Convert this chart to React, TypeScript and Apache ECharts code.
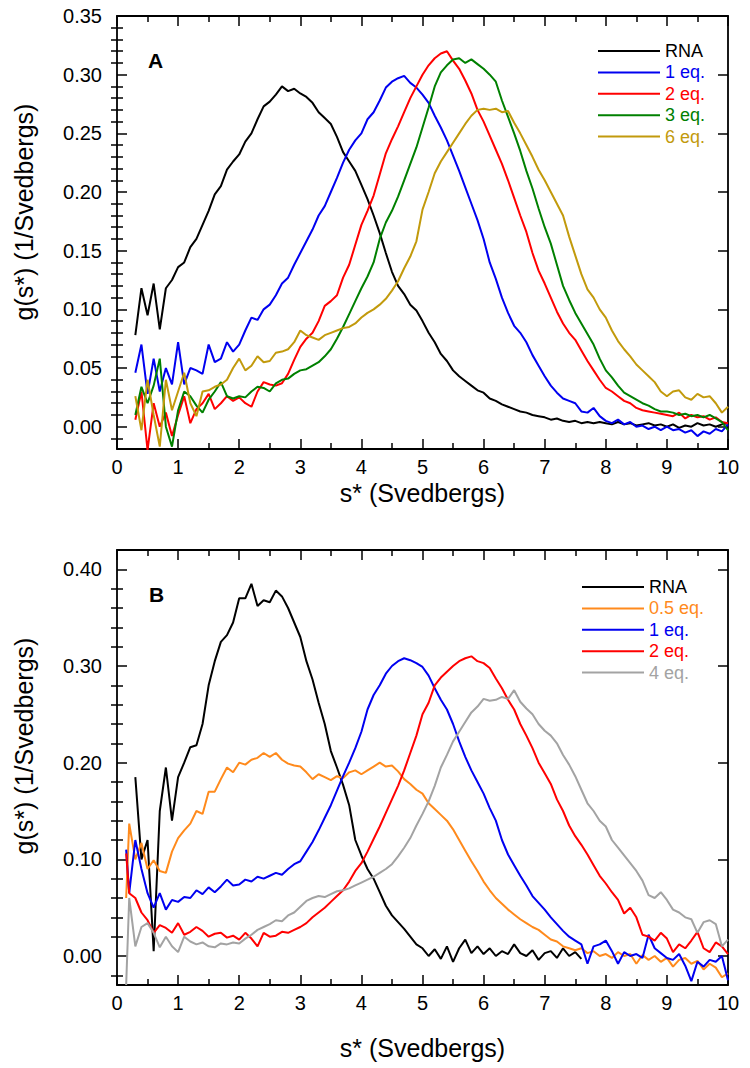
import { useEffect, useRef } from "react";
import * as echarts from "echarts";

const FONT = "'Liberation Sans', Arial, sans-serif";

// ---------- Panel A ----------
const sA = [
  0.3, 0.4, 0.5, 0.6, 0.7, 0.8, 0.9,
  1.0, 1.1, 1.2, 1.3, 1.4, 1.5, 1.6, 1.7, 1.8, 1.9,
  2.0, 2.1, 2.2, 2.3, 2.4, 2.5, 2.6, 2.7, 2.8, 2.9,
  3.0, 3.1, 3.2, 3.3, 3.4, 3.5, 3.6, 3.7, 3.8, 3.9,
  4.0, 4.1, 4.2, 4.3, 4.4, 4.5, 4.6, 4.7, 4.8, 4.9,
  5.0, 5.1, 5.2, 5.3, 5.4, 5.5, 5.6, 5.7, 5.8, 5.9,
  6.0, 6.1, 6.2, 6.3, 6.4, 6.5, 6.6, 6.7, 6.8, 6.9,
  7.0, 7.1, 7.2, 7.3, 7.4, 7.5, 7.6, 7.7, 7.8, 7.9,
  8.0, 8.1, 8.2, 8.3, 8.4, 8.5, 8.6, 8.7, 8.8, 8.9,
  9.0, 9.1, 9.2, 9.3, 9.4, 9.5, 9.6, 9.7, 9.8, 9.9,
  10.0,
];

const rnaA = [
  0.078, 0.118, 0.095, 0.122, 0.083, 0.118, 0.125,
  0.136, 0.14, 0.153, 0.16, 0.172, 0.184, 0.198, 0.205, 0.219, 0.226,
  0.232, 0.243, 0.25, 0.262, 0.273, 0.277, 0.283, 0.29, 0.286, 0.288,
  0.284, 0.281, 0.276, 0.268, 0.263, 0.258, 0.247, 0.234, 0.226, 0.218,
  0.206, 0.194, 0.18, 0.165, 0.148, 0.132, 0.12, 0.113, 0.104, 0.099,
  0.09, 0.08, 0.072, 0.062, 0.056, 0.048, 0.043, 0.039, 0.035, 0.031,
  0.029, 0.024, 0.022, 0.019, 0.017, 0.015, 0.013, 0.012, 0.01, 0.009,
  0.008, 0.006, 0.007, 0.005, 0.004, 0.005, 0.003, 0.004, 0.003, 0.004,
  0.003, 0.002, 0.004, 0.002, 0.003, 0.001, 0.002, 0.003, 0.001, 0.002,
  0.0, 0.002, -0.001, 0.001, 0.0, 0.003, 0.001, 0.002, 0.0, 0.002,
  0.003,
];

const eq1A = [
  0.046, 0.07, 0.028, 0.058, 0.03, 0.05, 0.036,
  0.072, 0.036, 0.05, 0.048, 0.045, 0.07, 0.055, 0.058, 0.072, 0.064,
  0.07, 0.082, 0.093, 0.091, 0.1, 0.104, 0.112, 0.122, 0.127, 0.138,
  0.148, 0.158, 0.168, 0.18, 0.188, 0.2, 0.212, 0.225, 0.236, 0.244,
  0.25, 0.262, 0.268, 0.278, 0.289, 0.294, 0.297, 0.299, 0.293, 0.289,
  0.283, 0.276, 0.265, 0.255, 0.244, 0.231, 0.218, 0.204, 0.19, 0.176,
  0.16, 0.14, 0.126, 0.11, 0.097, 0.086, 0.08, 0.072, 0.061, 0.052,
  0.043, 0.035, 0.029, 0.024, 0.022, 0.02, 0.013, 0.012, 0.016, 0.009,
  0.005, 0.003, 0.006, 0.002, 0.004, 0.0, 0.001, -0.002, 0.0, -0.003,
  0.0, -0.003, -0.002, -0.005, -0.003, -0.008, -0.004, -0.006, -0.002, -0.004,
  0.002,
];

const eq2A = [
  0.006, 0.03, -0.02, 0.02, 0.0, 0.012, -0.008,
  0.01, 0.026, 0.003, 0.015, 0.02, 0.028, 0.015, 0.02, 0.026, 0.022,
  0.025, 0.02, 0.017, 0.03, 0.038, 0.036, 0.035, 0.037, 0.045, 0.057,
  0.068, 0.075, 0.08, 0.09, 0.103, 0.107, 0.112, 0.127, 0.138, 0.155,
  0.172, 0.184, 0.197, 0.215, 0.233, 0.245, 0.256, 0.268, 0.28, 0.29,
  0.3, 0.308, 0.314, 0.318, 0.32, 0.312, 0.305, 0.295, 0.284, 0.27,
  0.26, 0.248, 0.236, 0.224, 0.21, 0.195, 0.18, 0.166, 0.148, 0.133,
  0.122, 0.11, 0.098, 0.088, 0.08, 0.074, 0.065, 0.056, 0.048, 0.04,
  0.033, 0.03, 0.026, 0.022, 0.02, 0.016, 0.014, 0.013, 0.012, 0.011,
  0.01, 0.009, 0.012, 0.007, 0.01, 0.008, 0.009, 0.006, 0.008, 0.004,
  0.003,
];

const eq3A = [
  0.01, 0.034, 0.02, 0.035, 0.058, 0.0, -0.017,
  0.014, 0.03, 0.026, 0.018, 0.012, 0.023, 0.03, 0.038, 0.026, 0.024,
  0.026, 0.025, 0.03, 0.034, 0.033, 0.03, 0.037, 0.04, 0.041, 0.045,
  0.048, 0.049, 0.052, 0.055, 0.06, 0.066, 0.075, 0.085, 0.096, 0.107,
  0.118, 0.128, 0.14, 0.16, 0.174, 0.184, 0.196, 0.21, 0.224, 0.238,
  0.255, 0.272, 0.29, 0.302, 0.308, 0.313, 0.314, 0.31, 0.313, 0.309,
  0.305, 0.3, 0.294, 0.278, 0.264, 0.25, 0.235, 0.218, 0.203, 0.186,
  0.17, 0.156, 0.138, 0.12, 0.108, 0.097, 0.088, 0.079, 0.07, 0.058,
  0.048, 0.042, 0.035, 0.029, 0.026, 0.023, 0.02, 0.018, 0.015, 0.013,
  0.013, 0.012, 0.01, 0.011, 0.009, 0.01, 0.008, 0.01, 0.007, 0.004,
  -0.003,
];

const eq6A = [
  0.026, -0.003, 0.04, 0.01, -0.017, 0.04, 0.014,
  0.03, 0.046, 0.02, 0.009, 0.03, 0.031, 0.034, 0.036, 0.04, 0.05,
  0.058, 0.048, 0.052, 0.06, 0.055, 0.056, 0.063, 0.064, 0.066, 0.072,
  0.082, 0.078, 0.076, 0.074, 0.078, 0.08, 0.082, 0.084, 0.085, 0.088,
  0.093, 0.097, 0.1, 0.104, 0.109, 0.116, 0.124, 0.135, 0.145, 0.158,
  0.185, 0.2, 0.216, 0.226, 0.234, 0.242, 0.25, 0.258, 0.265, 0.27,
  0.271, 0.27, 0.271, 0.268, 0.269, 0.259, 0.25, 0.24, 0.23, 0.219,
  0.21, 0.2, 0.19, 0.18, 0.162, 0.146, 0.13, 0.117, 0.11, 0.1,
  0.093, 0.082, 0.073, 0.066, 0.06, 0.053, 0.048, 0.043, 0.038, 0.03,
  0.026, 0.03, 0.031, 0.025, 0.023, 0.028, 0.025, 0.026, 0.02, 0.012,
  0.017,
];

const namesA = ["RNA", "1 eq.", "2 eq.", "3 eq.", "6 eq."];
const colorsA = ["#000000", "#0000F0", "#FF0000", "#008000", "#C29A0C"];
const valuesA = [rnaA, eq1A, eq2A, eq3A, eq6A];

// ---------- Panel B ----------
const sB = [
  0.15, 0.2,
  0.3, 0.4, 0.5, 0.6, 0.7, 0.8, 0.9,
  1.0, 1.1, 1.2, 1.3, 1.4, 1.5, 1.6, 1.7, 1.8, 1.9,
  2.0, 2.1, 2.2, 2.3, 2.4, 2.5, 2.6, 2.7, 2.8, 2.9,
  3.0, 3.1, 3.2, 3.3, 3.4, 3.5, 3.6, 3.7, 3.8, 3.9,
  4.0, 4.1, 4.2, 4.3, 4.4, 4.5, 4.6, 4.7, 4.8, 4.9,
  5.0, 5.1, 5.2, 5.3, 5.4, 5.5, 5.6, 5.7, 5.8, 5.9,
  6.0, 6.1, 6.2, 6.3, 6.4, 6.5, 6.6, 6.7, 6.8, 6.9,
  7.0, 7.1, 7.2, 7.3, 7.4, 7.5, 7.6, 7.7, 7.8, 7.9,
  8.0, 8.1, 8.2, 8.3, 8.4, 8.5, 8.6, 8.7, 8.8, 8.9,
  9.0, 9.1, 9.2, 9.3, 9.4, 9.5, 9.6, 9.7, 9.8, 9.9,
  10.0,
];

const rnaB = [
  null, null,
  0.185, 0.1, 0.12, 0.005, 0.15, 0.195, 0.14,
  0.185, 0.2, 0.216, 0.218, 0.24, 0.28, 0.305, 0.325, 0.332, 0.345,
  0.37, 0.37, 0.385, 0.362, 0.368, 0.366, 0.378, 0.372, 0.36, 0.345,
  0.33, 0.305, 0.286, 0.262, 0.24, 0.212, 0.195, 0.177, 0.156, 0.12,
  0.104, 0.09, 0.08, 0.066, 0.052, 0.042, 0.035, 0.028, 0.02, 0.012,
  0.008, 0.0, 0.007, -0.003, 0.01, -0.006, 0.008, 0.017, 0.003, 0.01,
  0.002, 0.008, 0.0, 0.005, 0.002, 0.012, 0.003, 0.0, 0.006, -0.004,
  0.003, 0.005, -0.002, 0.008, 0.0, 0.004, -0.003, null, null, null,
  null, null, null, null, null, null, null, null, null, null,
  null, null, null, null, null, null, null, null, null, null,
  null,
];

const eq05B = [
  0.06, 0.137,
  0.1, 0.117, 0.09, 0.099, 0.088, 0.086, 0.108,
  0.122, 0.13, 0.137, 0.15, 0.147, 0.17, 0.17, 0.183, 0.195, 0.19,
  0.2, 0.198, 0.203, 0.205, 0.21, 0.206, 0.21, 0.203, 0.199, 0.197,
  0.196, 0.19, 0.183, 0.188, 0.185, 0.182, 0.186, 0.184, 0.19, 0.192,
  0.188, 0.192, 0.196, 0.2, 0.196, 0.197, 0.191, 0.183, 0.178, 0.172,
  0.168, 0.158, 0.152, 0.146, 0.14, 0.131, 0.12, 0.109, 0.098, 0.088,
  0.077, 0.068, 0.06, 0.054, 0.048, 0.043, 0.038, 0.034, 0.03, 0.027,
  0.022, 0.017, 0.015, 0.01, 0.008, 0.006, 0.008, 0.003, 0.005, 0.0,
  0.002, -0.002, 0.004, 0.0, 0.002, -0.008, 0.001, -0.004, 0.0, -0.006,
  -0.002, -0.011, -0.004, -0.002, -0.008, -0.005, -0.014, -0.008, -0.012, -0.022,
  -0.018,
];

const eq1B = [
  0.11, 0.065,
  0.12, 0.09, 0.065, 0.05, 0.065, 0.048, 0.058,
  0.056, 0.061, 0.06, 0.068, 0.064, 0.071, 0.066, 0.072, 0.079, 0.073,
  0.074, 0.079, 0.077, 0.082, 0.08, 0.083, 0.086, 0.084, 0.09, 0.095,
  0.098, 0.108, 0.118, 0.13, 0.143, 0.156, 0.171, 0.186, 0.2, 0.215,
  0.232, 0.255, 0.27, 0.28, 0.292, 0.3, 0.305, 0.308, 0.306, 0.303,
  0.299, 0.29, 0.277, 0.265, 0.255, 0.24, 0.222, 0.206, 0.192, 0.18,
  0.168, 0.153, 0.14, 0.12, 0.105, 0.094, 0.083, 0.073, 0.062, 0.055,
  0.048, 0.04, 0.033, 0.026, 0.02, 0.016, 0.012, -0.008, 0.01, 0.012,
  0.016, 0.005, -0.008, 0.004, 0.0, 0.002, -0.002, 0.022, 0.008, 0.003,
  -0.002, -0.004, 0.002, -0.01, -0.026, -0.006, -0.011, -0.004, -0.006, 0.0,
  -0.025,
];

const eq2B = [
  0.106, 0.065,
  0.06, 0.045, 0.037, 0.024, 0.032, 0.029, 0.024,
  0.034, 0.022, 0.025, 0.03, 0.026, 0.02, 0.023, 0.024, 0.019, 0.021,
  0.017, 0.024, 0.018, 0.01, 0.024, 0.02, 0.021, 0.025, 0.024, 0.027,
  0.03, 0.034, 0.04, 0.045, 0.05, 0.056, 0.062, 0.068, 0.077, 0.088,
  0.096, 0.108, 0.121, 0.134, 0.148, 0.162, 0.176, 0.192, 0.21, 0.228,
  0.25, 0.262, 0.28, 0.288, 0.294, 0.3, 0.305, 0.308, 0.31, 0.305,
  0.303, 0.298, 0.287, 0.277, 0.265, 0.255, 0.24, 0.228, 0.215, 0.2,
  0.189, 0.178, 0.162, 0.15, 0.135, 0.124, 0.115, 0.105, 0.094, 0.083,
  0.075, 0.066, 0.058, 0.044, 0.05, 0.04, 0.022, 0.02, 0.016, 0.024,
  0.018, 0.004, 0.012, 0.008, 0.016, 0.025, 0.008, 0.004, 0.014, 0.01,
  0.002,
];

const eq4B = [
  -0.03, 0.06,
  0.01, 0.03, 0.034, 0.024, 0.009, 0.02, 0.01,
  0.004, 0.02, 0.015, 0.012, 0.014, 0.01, 0.009, 0.013, 0.012, 0.014,
  0.013, 0.018, 0.022, 0.027, 0.03, 0.033, 0.037, 0.036, 0.042, 0.045,
  0.051, 0.057, 0.06, 0.062, 0.061, 0.064, 0.067, 0.068, 0.07, 0.073,
  0.076, 0.079, 0.082, 0.086, 0.09, 0.095, 0.103, 0.112, 0.122, 0.135,
  0.147, 0.16, 0.176, 0.195, 0.208, 0.222, 0.232, 0.242, 0.252, 0.258,
  0.266, 0.264, 0.265, 0.268, 0.266, 0.275, 0.263, 0.256, 0.25, 0.24,
  0.233, 0.228, 0.22, 0.208, 0.198, 0.186, 0.172, 0.158, 0.15, 0.14,
  0.134, 0.12, 0.112, 0.104, 0.096, 0.088, 0.078, 0.063, 0.06, 0.066,
  0.058, 0.048, 0.045, 0.04, 0.038, 0.024, 0.035, 0.037, 0.033, 0.01,
  0.017,
];

const namesB = ["RNA", "0.5 eq.", "1 eq.", "2 eq.", "4 eq."];
const colorsB = ["#000000", "#FF8A1C", "#0000F0", "#FF0000", "#A3A3A3"];
const valuesB = [rnaB, eq05B, eq1B, eq2B, eq4B];

// ---------- Ticks ----------
const xTicks = [0, 1, 2, 3, 4, 5, 6, 7, 8, 9, 10];
const yMajorA = [0, 0.05, 0.1, 0.15, 0.2, 0.25, 0.3, 0.35];
const yMinorA = [
  -0.01, 0.01, 0.02, 0.03, 0.04, 0.06, 0.07, 0.08, 0.09, 0.11, 0.12, 0.13, 0.14,
  0.16, 0.17, 0.18, 0.19, 0.21, 0.22, 0.23, 0.24, 0.26, 0.27, 0.28, 0.29, 0.31,
  0.32, 0.33, 0.34,
];
const yMajorB = [0, 0.1, 0.2, 0.3, 0.4];
const yMinorB = [
  -0.02, 0.02, 0.04, 0.06, 0.08, 0.12, 0.14, 0.16, 0.18, 0.22, 0.24, 0.26, 0.28,
  0.32, 0.34, 0.36, 0.38,
];

const X_TITLE = "s* (Svedbergs)";
const Y_TITLE = "g(s*) (1/Svedbergs)";

function buildPanel(
  gi: number,
  top: number,
  height: number,
  ymin: number,
  ymax: number,
  major: number[],
  minor: number[],
  nameGap: number
) {
  const line = { color: "#000", width: 1.8 };
  const tickLine = { color: "#000", width: 1.5 };
  const xBase = {
    type: "value",
    gridIndex: gi,
    min: xTicks[0],
    max: xTicks[xTicks.length - 1],
    interval: 1,
    splitLine: { show: false },
    minorSplitLine: { show: false },
    axisLine: { show: true, onZero: false, lineStyle: line },
    axisTick: { show: true, inside: true, length: 10, lineStyle: tickLine },
    minorTick: { show: true, splitNumber: 2, length: 6, lineStyle: tickLine },
  };
  const xAxes = [
    {
      ...xBase,
      position: "bottom",
      axisLabel: { show: true, fontSize: 20, fontFamily: FONT, color: "#000", margin: 8 },
      name: X_TITLE,
      nameLocation: "middle",
      nameGap,
      nameTextStyle: { fontSize: 25, fontFamily: FONT, color: "#000" },
    },
    { ...xBase, position: "top", axisLabel: { show: false } },
  ];
  const yBase = {
    type: "value",
    gridIndex: gi,
    min: ymin,
    max: ymax,
    splitLine: { show: false },
  };
  const yAxes = [
    {
      ...yBase,
      position: "left",
      axisLine: { show: true, onZero: false, lineStyle: line },
      axisTick: { show: true, inside: true, length: 10, customValues: major, lineStyle: tickLine },
      axisLabel: {
        show: true,
        customValues: major,
        formatter: (v: number) => v.toFixed(2),
        fontSize: 20,
        fontFamily: FONT,
        color: "#000",
        margin: 15,
      },
    },
    {
      ...yBase,
      position: "left",
      axisLine: { show: false },
      axisTick: { show: true, inside: true, length: 6, customValues: minor, lineStyle: tickLine },
      axisLabel: { show: false },
    },
    {
      ...yBase,
      position: "right",
      axisLine: { show: true, onZero: false, lineStyle: line },
      axisTick: { show: true, inside: true, length: 10, customValues: major, lineStyle: tickLine },
      axisLabel: { show: false },
    },
    {
      ...yBase,
      position: "right",
      axisLine: { show: false },
      axisTick: { show: true, inside: true, length: 6, customValues: minor, lineStyle: tickLine },
      axisLabel: { show: false },
    },
  ];
  return {
    grid: { left: 117, width: 611, top, height, containLabel: false },
    xAxes,
    yAxes,
  };
}

export default function App() {
  const ref = useRef<HTMLDivElement>(null);
  useEffect(() => {
    if (!ref.current) return;
    const chart = echarts.init(ref.current, undefined, { renderer: "svg" });
    const pA = buildPanel(0, 16, 433, -0.019, 0.35, yMajorA, yMinorA, 31);
    const pB = buildPanel(1, 550, 435, -0.03, 0.42, yMajorB, yMinorB, 50);

    const series: any[] = [];
    valuesA.forEach((vals, i) => {
      series.push({
        type: "line",
        name: namesA[i],
        xAxisIndex: 0,
        yAxisIndex: 0,
        data: sA.map((s, k) => [s, vals[k]]),
        symbol: "none",
        showSymbol: false,
        lineStyle: { color: colorsA[i], width: 2 },
        itemStyle: { color: colorsA[i] },
        clip: true,
      });
    });
    valuesB.forEach((vals, i) => {
      series.push({
        type: "line",
        name: namesB[i],
        xAxisIndex: 2,
        yAxisIndex: 4,
        data: sB.map((s, k) => [s, vals[k]]),
        symbol: "none",
        showSymbol: false,
        connectNulls: false,
        lineStyle: { color: colorsB[i], width: 2 },
        itemStyle: { color: colorsB[i] },
        clip: true,
      });
    });

    const legendBase = {
      orient: "vertical",
      icon: "rect",
      itemWidth: 62,
      itemHeight: 2,
      itemGap: 3.4,
      selectedMode: false,
      textStyle: { fontSize: 18, fontFamily: FONT },
    };

    chart.setOption({
      animation: false,
      backgroundColor: "#ffffff",
      grid: [pA.grid, pB.grid],
      xAxis: [...pA.xAxes, ...pB.xAxes],
      yAxis: [...pA.yAxes, ...pB.yAxes],
      legend: [
        {
          ...legendBase,
          left: 593,
          top: 37,
          data: namesA.map((n, i) => ({ name: n, textStyle: { color: colorsA[i] } })),
        },
        {
          ...legendBase,
          left: 577,
          top: 573,
          data: namesB.map((n, i) => ({ name: n, textStyle: { color: colorsB[i] } })),
        },
      ],
      graphic: [
        {
          type: "text",
          left: 148,
          top: 50,
          style: { text: "A", font: `bold 21px ${FONT}`, fill: "#000" },
        },
        {
          type: "text",
          left: 149,
          top: 584,
          style: { text: "B", font: `bold 21px ${FONT}`, fill: "#000" },
        },
        {
          type: "text",
          x: 24,
          y: 212,
          rotation: Math.PI / 2,
          style: {
            text: Y_TITLE,
            font: `25px ${FONT}`,
            fill: "#000",
            textAlign: "center",
            textVerticalAlign: "middle",
          },
        },
        {
          type: "text",
          x: 24,
          y: 746,
          rotation: Math.PI / 2,
          style: {
            text: Y_TITLE,
            font: `25px ${FONT}`,
            fill: "#000",
            textAlign: "center",
            textVerticalAlign: "middle",
          },
        },
      ],
      series,
    });
    return () => chart.dispose();
  }, []);
  return (
    <div
      ref={ref}
      style={{ position: "absolute", left: 0, top: 0, width: 750, height: 1068 }}
    />
  );
}
